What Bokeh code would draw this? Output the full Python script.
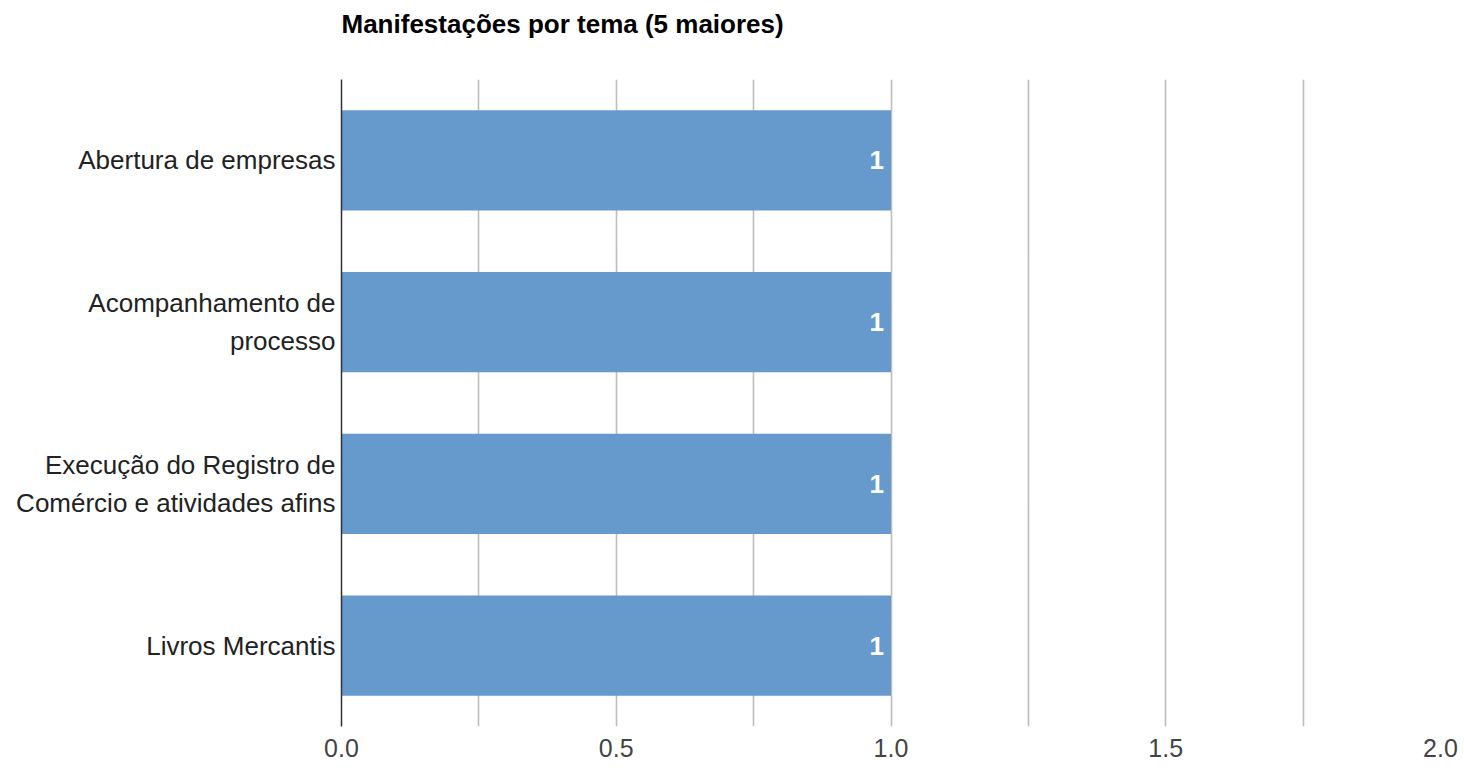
from bokeh.plotting import figure
from bokeh.models import FactorRange, Range1d, FixedTicker, NumeralTickFormatter, ColumnDataSource, Title
from bokeh.core.properties import value
from bokeh.embed import file_html
from bokeh.resources import INLINE

title_text = "Manifestações por tema (5 maiores)"
categories = [
    "Abertura de empresas",
    "Acompanhamento de\nprocesso",
    "Execução do Registro de\nComércio e atividades afins",
    "Livros Mercantis",
]
values = [1, 1, 1, 1]
value_labels = ["1", "1", "1", "1"]
x_ticks = [0.0, 0.5, 1.0, 1.5, 2.0]
grid_ticks = [0.0, 0.25, 0.5, 0.75, 1.0, 1.25, 1.5, 1.75, 2.0]

FONT = "Liberation Sans"

src = ColumnDataSource(dict(cat=categories, val=values, lab=value_labels))

p = figure(
    width=1464, height=768, title=None,
    y_range=FactorRange(*list(reversed(categories)), range_padding=0),
    x_range=Range1d(0, 2),
    output_backend="svg", toolbar_location=None,
    min_border_left=341, min_border_right=24, min_border_top=79, min_border_bottom=42,
)
p.outline_line_color = None
p.background_fill_color = "white"
p.border_fill_color = "white"

p.hbar(y="cat", right="val", left=0, height=0.62, source=src,
       fill_color="#6699cc", line_color=None)

p.text(x="val", y="cat", text="lab", source=src,
       text_font=value(FONT), text_font_size="26px", text_font_style="bold",
       text_color="white", text_align="right", text_baseline="middle", x_offset=-7)

# spacer between frame and title, then the title itself
spacer = Title(text=" ", text_font=FONT, text_font_size="10px", standoff=28, align="left", offset=0)
p.add_layout(spacer, "above")
main_title = Title(text=title_text, text_font=FONT, text_font_size="26px",
                   text_font_style="bold", text_color="#000000",
                   align="left", offset=0, standoff=0)
p.add_layout(main_title, "above")

# grid
p.ygrid.grid_line_color = None
p.xgrid.ticker = FixedTicker(ticks=grid_ticks)
p.xgrid.grid_line_color = "#bdbdbd"
p.xgrid.grid_line_width = 1.6

# x axis
xa = p.xaxis[0]
xa.ticker = FixedTicker(ticks=x_ticks)
xa.formatter = NumeralTickFormatter(format="0.0")
xa.axis_line_color = None
xa.major_tick_line_color = None
xa.minor_tick_line_color = None
xa.major_label_text_font = FONT
xa.major_label_text_font_size = "25px"
xa.major_label_text_color = "#444444"
xa.major_label_standoff = 6

# y axis
ya = p.yaxis[0]
ya.axis_line_color = "#333333"
ya.axis_line_width = 1.5
ya.major_tick_line_color = None
ya.minor_tick_line_color = None
ya.major_label_text_font = FONT
ya.major_label_text_font_size = "26px"
ya.major_label_text_color = "#222222"
ya.major_label_standoff = 0
ya.major_label_text_line_height = 1.25

open("out.html", "w").write(file_html(p, INLINE))
